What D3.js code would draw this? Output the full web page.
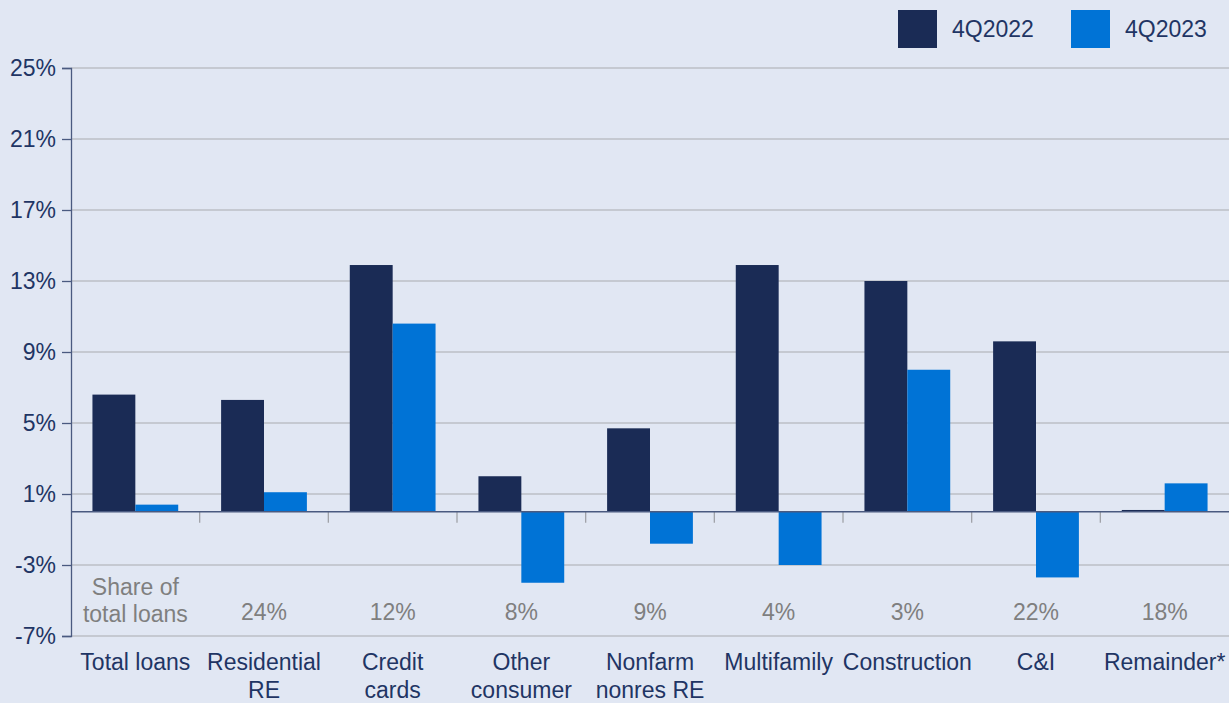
<!DOCTYPE html>
<html>
<head>
<meta charset="utf-8">
<script src="https://cdn.jsdelivr.net/npm/d3@7"></script>
<style>
  body { margin: 0; background: #e1e7f3; }
  svg { display: block; font-family: "Liberation Sans", Arial, sans-serif; }
</style>
</head>
<body>
<div id="chart"></div>
<script>
// data
var categories = [['Total loans'], ['Residential', 'RE'], ['Credit', 'cards'], ['Other', 'consumer'],
    ['Nonfarm', 'nonres RE'], ['Multifamily'], ['Construction'], ['C&I'], ['Remainder*']];
var shares = [['Share of', 'total loans'], ['24%'], ['12%'], ['8%'], ['9%'], ['4%'], ['3%'], ['22%'], ['18%']];
var series = ['4Q2022', '4Q2023'];
var values2022 = [6.6, 6.3, 13.9, 2.0, 4.7, 13.9, 13.0, 9.6, 0.1];
var values2023 = [0.4, 1.1, 10.6, -4.0, -1.8, -3.0, 8.0, -3.7, 1.6];
var yTicks = [-7, -3, 1, 5, 9, 13, 17, 21, 25];
var colors = ['#1a2b55', '#0073d6'];

var width = 1229, height = 703;
var margin = {left: 71, right: 0, top: 68, bottom: 67};
var fontSize = '23px';

var svg = d3.select('#chart').append('svg')
    .attr('width', width)
    .attr('height', height);

svg.append('rect')
    .attr('width', width)
    .attr('height', height)
    .attr('fill', '#e1e7f3');

var x = d3.scaleBand()
    .domain(d3.range(categories.length))
    .range([margin.left, width - margin.right])
    .paddingInner(0)
    .paddingOuter(0);

var xInner = d3.scaleBand()
    .domain([0, 1])
    .range([0, x.bandwidth()])
    .paddingOuter(0.5)
    .paddingInner(0);

var y = d3.scaleLinear()
    .domain([-7, 25])
    .range([height - margin.bottom, margin.top]);

// gridlines
svg.append('g')
    .selectAll('line')
    .data(yTicks)
    .join('line')
    .attr('x1', margin.left)
    .attr('x2', width)
    .attr('y1', function(d) { return y(d); })
    .attr('y2', function(d) { return y(d); })
    .attr('stroke', '#a9abb0')
    .attr('stroke-width', 1.2);

// y axis
var yAxis = svg.append('g')
    .attr('transform', 'translate(' + margin.left + ',0)')
    .call(d3.axisLeft(y).tickValues(yTicks).tickSize(9).tickPadding(6)
        .tickFormat(function(d) { return d + '%'; }));
yAxis.select('.domain').attr('stroke', '#4a5a80').attr('stroke-width', 1.3);
yAxis.selectAll('.tick line').attr('stroke', '#4a5a80').attr('stroke-width', 1.3);
yAxis.selectAll('text')
    .attr('fill', '#1f3564')
    .style('font-size', fontSize)
    .style('font-family', '"Liberation Sans", Arial, sans-serif');

// category separators
svg.append('g')
    .selectAll('line')
    .data(d3.range(1, categories.length))
    .join('line')
    .attr('x1', function(i) { return x(i); })
    .attr('x2', function(i) { return x(i); })
    .attr('y1', y(0))
    .attr('y2', y(0) + 11)
    .attr('stroke', '#a0a2a8')
    .attr('stroke-width', 1.3);

// bars
var groups = svg.append('g')
    .selectAll('g')
    .data(categories.map(function(c, i) { return [values2022[i], values2023[i]]; }))
    .join('g')
    .attr('transform', function(d, i) { return 'translate(' + x(i) + ',0)'; });

groups.selectAll('rect')
    .data(function(d) { return d; })
    .join('rect')
    .attr('x', function(d, j) { return xInner(j); })
    .attr('width', xInner.bandwidth())
    .attr('y', function(d) { return y(Math.max(0, d)); })
    .attr('height', function(d) { return Math.abs(y(d) - y(0)); })
    .attr('fill', function(d, j) { return colors[j]; });

// zero line
svg.append('line')
    .attr('x1', margin.left)
    .attr('x2', width)
    .attr('y1', y(0))
    .attr('y2', y(0))
    .attr('stroke', '#4a5a80')
    .attr('stroke-width', 1.5);

// share of total loans
svg.append('g')
    .selectAll('text')
    .data(shares)
    .join('text')
    .attr('text-anchor', 'middle')
    .attr('fill', '#7f7f7f')
    .style('font-size', fontSize)
    .attr('transform', function(d, i) {
        var base = d.length > 1 ? 595 : 620;
        return 'translate(' + (x(i) + x.bandwidth() / 2) + ',' + base + ')';
    })
    .selectAll('tspan')
    .data(function(d) { return d; })
    .join('tspan')
    .attr('x', 0)
    .attr('y', function(d, k) { return k * 27; })
    .text(function(d) { return d; });

// category labels
svg.append('g')
    .selectAll('text')
    .data(categories)
    .join('text')
    .attr('text-anchor', 'middle')
    .attr('fill', '#1f3564')
    .style('font-size', fontSize)
    .attr('transform', function(d, i) {
        return 'translate(' + (x(i) + x.bandwidth() / 2) + ',670)';
    })
    .selectAll('tspan')
    .data(function(d) { return d; })
    .join('tspan')
    .attr('x', 0)
    .attr('y', function(d, k) { return k * 28; })
    .text(function(d) { return d; });

// legend
var legend = svg.append('g');
var legendX = [898, 1071];
series.forEach(function(s, i) {
    legend.append('rect')
        .attr('x', legendX[i])
        .attr('y', 10)
        .attr('width', 39)
        .attr('height', 38)
        .attr('fill', colors[i]);
    legend.append('text')
        .attr('x', legendX[i] + 54)
        .attr('y', 37)
        .attr('fill', '#1f3564')
        .style('font-size', fontSize)
        .text(s);
});
</script>
</body>
</html>
